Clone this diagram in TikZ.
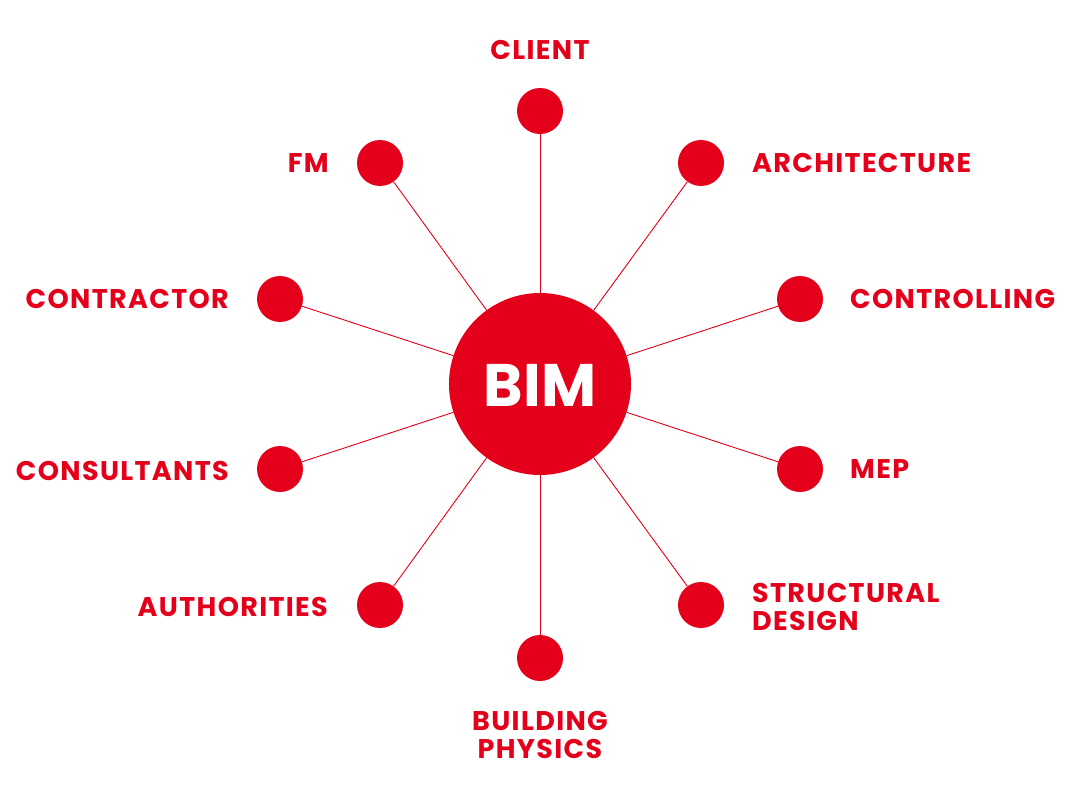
\documentclass[tikz,border=0pt]{standalone}
\usepackage{fontspec}
\setmainfont{Poppins}
\newfontfamily\lblfont[LetterSpace=5]{Poppins}
\definecolor{bimred}{RGB}{228,0,27}
\begin{document}
\begin{tikzpicture}[x=1pt,y=-1pt,
  hub/.style={circle,fill=bimred,inner sep=0pt,minimum size=182pt},
  dot/.style={circle,fill=bimred,inner sep=0pt,minimum size=46pt},
  spoke/.style={draw=bimred,line width=0.9pt},
  lbl/.style={text=bimred,inner sep=0pt,font=\lblfont\bfseries\fontsize{27}{28}\selectfont}]
\useasboundingbox (0,0) rectangle (1080,800);
\node[hub] (bim) at (540,384) {};
\node[text=white,font=\bfseries\fontsize{60}{60}\selectfont,inner sep=0pt] (bimt) at (540,385) {BIM};
\node[dot] (client) at (540,111) {};
\node[dot] (arch) at (701,163) {};
\node[dot] (ctrl) at (800,299) {};
\node[dot] (mep) at (800,469) {};
\node[dot] (struct) at (701,605) {};
\node[dot] (phys) at (540,658) {};
\node[dot] (auth) at (380,605) {};
\node[dot] (cons) at (280,469) {};
\node[dot] (contr) at (280,299) {};
\node[dot] (fm) at (380,163) {};
\foreach \n in {client,arch,ctrl,mep,struct,phys,auth,cons,contr,fm}
  \draw[spoke] (bim) -- (\n);
\node[lbl] (lclient) at (540,50) {CLIENT};
\node[lbl,anchor=west] (larch) at (752,163) {ARCHITECTURE};
\node[lbl,anchor=west] (lctrl) at (850,299) {CONTROLLING};
\node[lbl,anchor=west] (lmep) at (850,469) {MEP};
\node[lbl,anchor=west,align=left] (lstruct) at (752,607) {STRUCTURAL\\DESIGN};
\node[lbl,align=center] (lphys) at (540,735) {BUILDING\\PHYSICS};
\node[lbl,anchor=east] (lauth) at (328,607) {AUTHORITIES};
\node[lbl,anchor=east] (lcons) at (229,471) {CONSULTANTS};
\node[lbl,anchor=east] (lcontr) at (229,299) {CONTRACTOR};
\node[lbl,anchor=east] (lfm) at (329,163) {FM};
\end{tikzpicture}
\end{document}
